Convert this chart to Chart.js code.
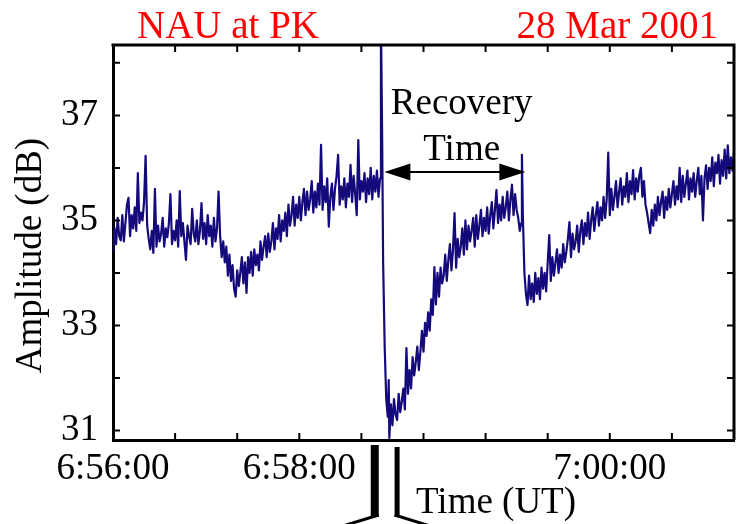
<!DOCTYPE html>
<html><head><meta charset="utf-8">
<script src="https://cdn.jsdelivr.net/npm/chart.js@4"></script>
<style>
html,body{margin:0;padding:0;background:#fff;overflow:hidden;}
#wrap{position:relative;width:741px;height:524px;}
</style></head><body>
<div id="wrap"><canvas id="c" width="741" height="524"></canvas></div>
<script>
// Display time in seconds from 6:56:00 (axis is broken after the spike)
const timeSec = [
  0,1,2,3,4,5,6,7,8,9,
  10,11,12,13,14,15,16,17,18,19,
  20,21,22,23,24,25,26,27,28,29,
  30,31,32,33,34,35,36,37,38,39,
  40,41,42,43,44,45,46,47,48,49,
  50,51,52,53,54,55,56,57,58,59,
  60,61,62,63,64,65,66,67,68,69,
  70,71,72,73,74,75,76,77,78,79,
  80,81,82,83,84,85,86,87,88,89,
  90,91,92,93,94,95,96,97,98,99,
  100,101,102,103,104,105,106,107,108,109,
  110,111,112,113,114,115,116,117,118,119,
  120,121,122,123,124,125,126,127,128,129,
  130,131,132,133,134,135,136,137,138,139,
  140,141,142,143,144,145,146,147,148,149,
  150,151,152,153,154,155,156,157,158,159,
  160,161,162,163,164,165,166,167,168,169,
  170,171,172,
  172.6,173.4,174,175,176,177,177.6,178,
  179,180,181,182,183,184,185,186,187,188,
  189,190,191,192,193,194,195,196,197,198,
  199,200,201,202,203,204,205,206,207,208,
  209,210,211,212,213,214,215,216,217,218,
  219,220,221,222,223,224,225,226,227,228,
  229,230,231,232,233,234,235,236,237,238,
  239,240,241,242,243,244,245,246,247,248,
  249,250,251,252,253,254,255,256,257,258,
  259,260,261,262,263,
  263.4,
  264,265,266,267,268,269,270,271,272,273,
  274,275,276,277,278,279,280,281,282,283,
  284,285,286,287,288,289,290,291,292,293,
  294,295,296,297,298,299,300,301,302,303,
  304,305,306,307,308,309,310,311,312,313,
  314,315,316,317,318,319,320,321,322,323,
  324,325,326,327,328,329,330,331,332,333,
  334,335,336,337,338,339,340,341,342,343,
  344,345,346,347,348,349,350,351,352,353,
  354,355,356,357,358,359,360,361,362,363,
  364,365,366,367,368,369,370,371,372,373,
  374,375,376,377,378,379,380,381,382,383,
  384,385,386,387,388,389,390,391,392,393,
  394,395,396,397,398,399,400
];
// Amplitude (dB)
const amplitudeDb = [
  34.40,34.85,34.55,35.05,34.70,34.62,35.10,34.60,34.95,35.30,
  35.43,34.70,35.10,34.85,35.25,34.80,35.90,34.95,35.15,35.00,
  35.35,36.23,34.90,34.65,34.45,34.80,34.38,35.60,34.50,34.90,
  34.60,34.75,35.05,34.50,34.85,34.68,34.95,35.50,34.55,34.80,
  34.62,35.00,34.50,35.56,34.70,34.95,34.60,34.25,34.90,34.70,
  34.55,35.22,34.75,34.60,35.00,34.55,34.80,35.33,34.65,34.95,
  34.55,35.10,34.70,34.90,34.50,35.05,34.60,34.85,35.55,34.70,
  34.30,34.60,34.20,34.50,33.95,34.35,33.85,34.15,33.70,33.55,
  34.05,33.75,34.00,34.30,33.80,34.20,33.62,34.30,34.00,34.40,
  33.95,34.45,34.15,34.35,34.05,34.60,34.25,34.50,34.70,34.30,
  34.75,34.40,34.60,34.95,34.45,34.85,34.65,35.10,34.60,35.00,
  34.80,35.15,34.70,35.30,34.90,35.10,35.45,34.90,35.30,35.05,
  35.45,35.00,35.35,35.60,35.10,35.55,35.20,35.40,35.75,35.15,
  35.55,35.25,35.70,35.30,36.44,35.20,35.65,35.35,35.80,34.88,
  35.45,35.70,35.20,35.60,35.85,36.25,35.30,35.65,35.40,35.80,
  35.25,35.70,35.45,36.06,35.35,35.85,35.50,35.10,36.53,35.40,
  35.75,35.55,35.90,35.35,35.80,35.50,36.00,35.40,35.85,35.55,
  35.95,35.45,35.80,
  38.80,36.50,34.20,32.60,31.60,31.26,31.96,30.86,
  31.50,31.10,31.60,31.30,31.20,31.70,31.35,31.55,31.80,31.40,
  32.57,31.70,32.15,31.80,32.40,32.05,32.30,32.60,32.15,32.50,
  32.90,32.50,33.05,32.80,33.25,32.90,33.50,33.20,34.11,33.40,
  34.00,33.55,34.10,33.80,33.95,34.35,33.85,34.25,34.55,34.05,
  34.45,35.14,34.10,34.65,34.30,34.50,34.85,34.35,35.00,34.45,
  34.90,34.60,34.80,35.05,34.50,35.10,34.65,34.90,35.20,34.70,
  35.05,34.80,35.25,34.75,35.10,35.35,34.85,35.20,35.58,34.95,
  35.30,35.00,35.45,35.05,35.25,35.55,35.00,35.40,35.68,35.10,
  35.50,35.20,35.05,34.80,34.95,
  36.25,
  35.10,34.00,33.60,33.39,33.95,33.50,33.80,33.45,34.00,33.60,
  33.90,33.50,34.10,33.70,34.00,33.65,34.20,34.72,33.85,34.30,
  33.95,34.20,34.45,34.00,34.35,34.10,34.55,34.20,34.40,34.65,
  34.97,34.30,34.75,34.45,34.60,34.90,34.40,34.80,35.00,34.55,
  34.95,34.70,35.15,34.65,35.00,35.25,34.80,35.10,35.35,34.90,
  35.25,35.00,35.45,35.05,35.40,36.29,35.10,35.60,35.20,35.45,
  35.75,35.25,35.55,35.80,35.30,35.65,35.45,35.90,35.35,35.75,
  35.50,35.96,35.40,35.80,35.55,35.85,36.00,35.45,35.75,35.30,
  35.15,34.95,34.76,35.20,34.90,35.30,35.00,35.45,35.10,35.35,
  35.55,35.05,35.45,35.20,35.60,35.25,35.50,35.75,35.30,35.65,
  35.40,36.00,35.35,35.85,35.45,35.70,35.95,35.40,35.80,35.55,
  35.90,35.45,35.75,36.00,35.50,35.85,35.00,35.80,36.05,35.60,
  36.00,35.75,36.20,35.65,36.10,35.90,36.25,35.70,36.15,35.85,
  36.35,35.80,36.43,35.90,36.20,35.95,36.30
];
const xTickLabels = {0:'6:56:00', 120:'6:58:00', 320:'7:00:00'};
const yLabelledTicks = [31,33,35,37];
const titleLeft = 'NAU at PK';
const titleRight = '28 Mar 2001';
const xAxisTitle = 'Time (UT)';
const yAxisTitle = 'Amplitude (dB)';
const recoveryLines = ['Recovery','Time'];
const recovery = {fromT:174.8, toT:265.6, arrowDb:35.92, textT:224.6, line1Db:37.03, line2Db:36.15};
const axisBreak = {leftT:168.6, rightT:183};

const SERIF = '"Liberation Serif","Times New Roman",serif';
const LINE_COLOR = '#150a7c';

const points = timeSec.map((t,i)=>({x:t, y:amplitudeDb[i]}));

const decor = {
  id:'decor',
  afterDraw(chart){
    const {ctx, chartArea:a, scales:{x,y}} = chart;
    ctx.save();
    ctx.strokeStyle='#000'; ctx.lineWidth=3;
    ctx.beginPath();
    ctx.moveTo(a.left-1.5,a.top); ctx.lineTo(a.right+1.5,a.top);
    ctx.moveTo(a.right,a.top); ctx.lineTo(a.right,a.bottom);
    ctx.stroke();
    ctx.lineWidth=2;
    ctx.beginPath();
    x.ticks.forEach(t=>{
      const px=x.getPixelForValue(t.value);
      ctx.moveTo(px,a.bottom); ctx.lineTo(px,a.bottom-7);
      ctx.moveTo(px,a.top); ctx.lineTo(px,a.top+7);
    });
    y.ticks.forEach(t=>{
      const py=y.getPixelForValue(t.value);
      ctx.moveTo(a.left,py); ctx.lineTo(a.left+7,py);
      ctx.moveTo(a.right,py); ctx.lineTo(a.right-7,py);
    });
    ctx.stroke();
    ctx.fillStyle='#ff0000';
    ctx.font='39px '+SERIF;
    ctx.textBaseline='alphabetic';
    ctx.textAlign='left'; ctx.fillText(titleLeft,137,38);
    ctx.textAlign='right'; ctx.fillText(titleRight,718,38);
    ctx.fillStyle='#000';
    ctx.font='37px '+SERIF;
    ctx.textAlign='center';
    const cx=x.getPixelForValue(recovery.textT);
    ctx.fillText(recoveryLines[0],cx,y.getPixelForValue(recovery.line1Db));
    ctx.fillText(recoveryLines[1],cx,y.getPixelForValue(recovery.line2Db));
    const ay=y.getPixelForValue(recovery.arrowDb);
    const x1=x.getPixelForValue(recovery.fromT), x2=x.getPixelForValue(recovery.toT);
    const hl=26, hh=8.5;
    ctx.strokeStyle='#000'; ctx.lineWidth=2;
    ctx.beginPath(); ctx.moveTo(x1+hl-2,ay); ctx.lineTo(x2-hl+2,ay); ctx.stroke();
    ctx.beginPath(); ctx.moveTo(x1,ay); ctx.lineTo(x1+hl,ay-hh); ctx.lineTo(x1+hl,ay+hh); ctx.closePath(); ctx.fill();
    ctx.beginPath(); ctx.moveTo(x2,ay); ctx.lineTo(x2-hl,ay-hh); ctx.lineTo(x2-hl,ay+hh); ctx.closePath(); ctx.fill();
    ctx.textAlign='left';
    ctx.fillText(xAxisTitle, x.getPixelForValue(195.2), a.bottom+73);
    ctx.save();
    ctx.translate(41,(a.top+a.bottom)/2+13);
    ctx.rotate(-Math.PI/2);
    ctx.textAlign='center';
    ctx.fillText(yAxisTitle,0,0);
    ctx.restore();
    const lx=x.getPixelForValue(axisBreak.leftT), rx=x.getPixelForValue(axisBreak.rightT);
    ctx.fillRect(lx-4,a.bottom+5,8,72);
    ctx.fillRect(rx-2.5,a.bottom+7,5,70);
    ctx.lineWidth=3;
    ctx.beginPath();
    ctx.moveTo(lx+4,a.bottom+75); ctx.lineTo(lx-32,a.bottom+86);
    ctx.moveTo(rx-2.5,a.bottom+75); ctx.lineTo(rx+33,a.bottom+86);
    ctx.stroke();
    ctx.restore();
  }
};

new Chart(document.getElementById('c'),{
  type:'line',
  data:{datasets:[{
    data:points,
    borderColor:LINE_COLOR,
    borderWidth:2.2,
    borderJoinStyle:'round',
    pointRadius:0,
    tension:0,
    fill:false
  }]},
  options:{
    responsive:false,
    animation:false,
    events:[],
    layout:{padding:{top:45,left:0,right:3,bottom:0}},
    plugins:{legend:{display:false},tooltip:{enabled:false},title:{display:false}},
    scales:{
      x:{
        type:'linear', min:0, max:400,
        afterFit(s){ s.height=84; },
        ticks:{stepSize:40, autoSkip:false, maxRotation:0, minRotation:0, includeBounds:false,
          padding:7, color:'#000', font:{family:SERIF,size:37},
          callback:v=> (xTickLabels[v]!==undefined? xTickLabels[v] : '')},
        grid:{display:true, drawOnChartArea:false, drawTicks:false},
        border:{display:true, color:'#000', width:3}
      },
      y:{
        type:'linear', min:30.82, max:38.34,
        afterFit(s){ s.width=113; },
        ticks:{stepSize:1, includeBounds:false, padding:15, color:'#000', font:{family:SERIF,size:37},
          callback:v=> (yLabelledTicks.includes(Math.round(v*1000)/1000)? String(v) : '')},
        grid:{display:true, drawOnChartArea:false, drawTicks:false},
        border:{display:true, color:'#000', width:3}
      }
    }
  },
  plugins:[decor]
});
</script>
</body></html>
